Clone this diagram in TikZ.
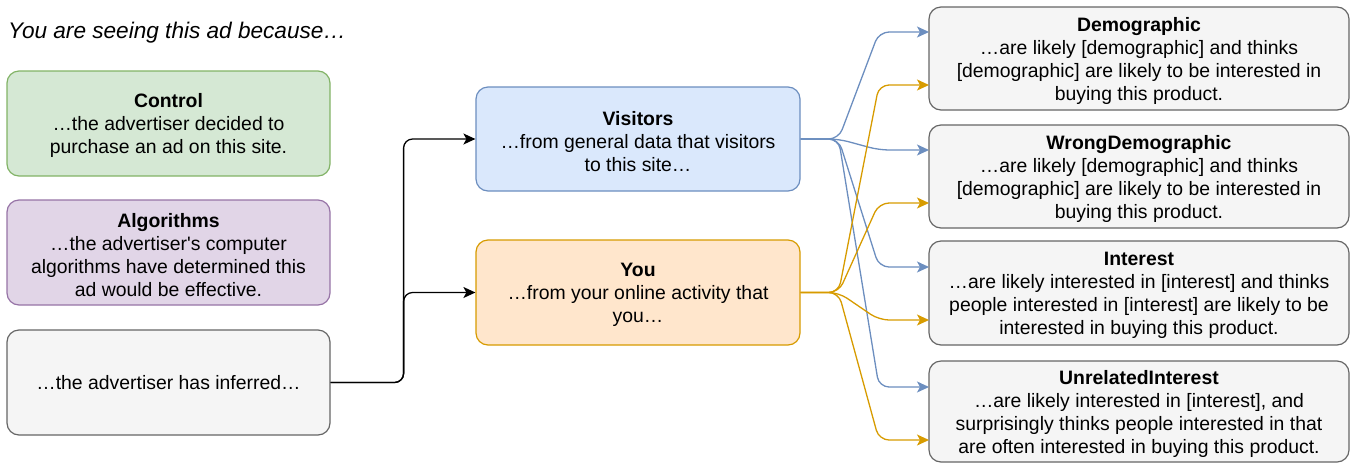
\documentclass[tikz,border=0pt]{standalone}
\usepackage{fontspec}
\setmainfont{Liberation Sans}
\usetikzlibrary{arrows.meta}
\definecolor{gfill}{HTML}{D5E8D4}\definecolor{gdraw}{HTML}{82B366}
\definecolor{pfill}{HTML}{E1D5E7}\definecolor{pdraw}{HTML}{9673A6}
\definecolor{kfill}{HTML}{F5F5F5}\definecolor{kdraw}{HTML}{666666}
\definecolor{bfill}{HTML}{DAE8FC}\definecolor{bdraw}{HTML}{6C8EBF}
\definecolor{ofill}{HTML}{FFE6CC}\definecolor{odraw}{HTML}{D79B00}
\newcommand{\fl}{\rule{0pt}{19pt}}
\begin{document}
\begin{tikzpicture}[x=1pt,y=-1pt,
  box/.style={draw, rounded corners=12pt, line width=1.2pt, align=center, inner sep=0pt,
    font=\fontsize{19.4}{23}\selectfont, text=black},
  lbox/.style={box, minimum width=323pt, minimum height=105pt},
  mbox/.style={box, minimum width=324pt, minimum height=104pt},
  rbox/.style={box, fill=kfill, draw=kdraw, minimum width=420pt, minimum height=103pt},
  conn/.style={line width=1.3pt, rounded corners=10pt, -{Stealth[length=12pt,width=11pt,inset=3pt]}},
  bconn/.style={conn, draw=bdraw},
  oconn/.style={conn, draw=odraw},
  kconn/.style={conn, draw=black, rounded corners=9pt}]
\useasboundingbox (0,0) rectangle (1351,464);
\node[anchor=base west, inner sep=0pt, font=\itshape\fontsize{22.6}{26}\selectfont] (title) at (8,38) {You are seeing this ad because…};
\node[lbox, fill=gfill, draw=gdraw] (ctl) at (168.5,123.5) {\fl\textbf{Control}\\…the advertiser decided to\\purchase an ad on this site.};
\node[lbox, fill=pfill, draw=pdraw] (alg) at (168.5,252.5) {\fl\textbf{Algorithms}\\…the advertiser\textquotesingle s computer\\algorithms have determined this\\ad would be effective.};
\node[lbox, fill=kfill, draw=kdraw] (inf) at (168.5,382.5) {…the advertiser has inferred…};
\node[mbox, fill=bfill, draw=bdraw] (vis) at (638,139) {\fl\textbf{Visitors}\\…from general data that visitors\\to this site…};
\node[mbox, fill=ofill, draw=odraw, minimum height=105pt] (you) at (638,292.5) {\fl\textbf{You}\\…from your online activity that\\you…};
\node[rbox] (dem) at (1139,58.5) {\fl\textbf{Demographic}\\…are likely [demographic] and thinks\\{}[demographic] are likely to be interested in\\buying this product.};
\node[rbox] (wdem) at (1139,176.5) {\fl\textbf{WrongDemographic}\\…are likely [demographic] and thinks\\{}[demographic] are likely to be interested in\\buying this product.};
\node[rbox, minimum height=104pt] (int) at (1139,293) {\fl\textbf{Interest}\\…are likely interested in [interest] and thinks\\people interested in [interest] are likely to be\\interested in buying this product.};
\node[rbox, minimum height=101pt] (uint) at (1139,411.5) {\fl\textbf{UnrelatedInterest}\\…are likely interested in [interest], and\\surprisingly thinks people interested in that\\are often interested in buying this product.};
% left connectors
\draw[kconn] (inf.east) -- ([xshift=73pt]inf.east) |- (vis.west);
\draw[kconn] (inf.east) -- ([xshift=73pt]inf.east) |- (you.west);
% target ports
\coordinate (db) at (929,32);  \coordinate (do) at (929,85);
\coordinate (wb) at (929,150); \coordinate (wo) at (929,203);
\coordinate (ib) at (929,267); \coordinate (io) at (929,320);
\coordinate (ub) at (929,387); \coordinate (uo) at (929,440);
\foreach \t in {db,wb,ib,ub}{
  \draw[bconn] (vis.east) -- ++(38,0) -- ([xshift=-50pt]\t) -- (\t);
}
\foreach \t in {do,wo,io,uo}{
  \draw[oconn] (you.east) -- ++(38,0) -- ([xshift=-50pt]\t) -- (\t);
}
\end{tikzpicture}
\end{document}
